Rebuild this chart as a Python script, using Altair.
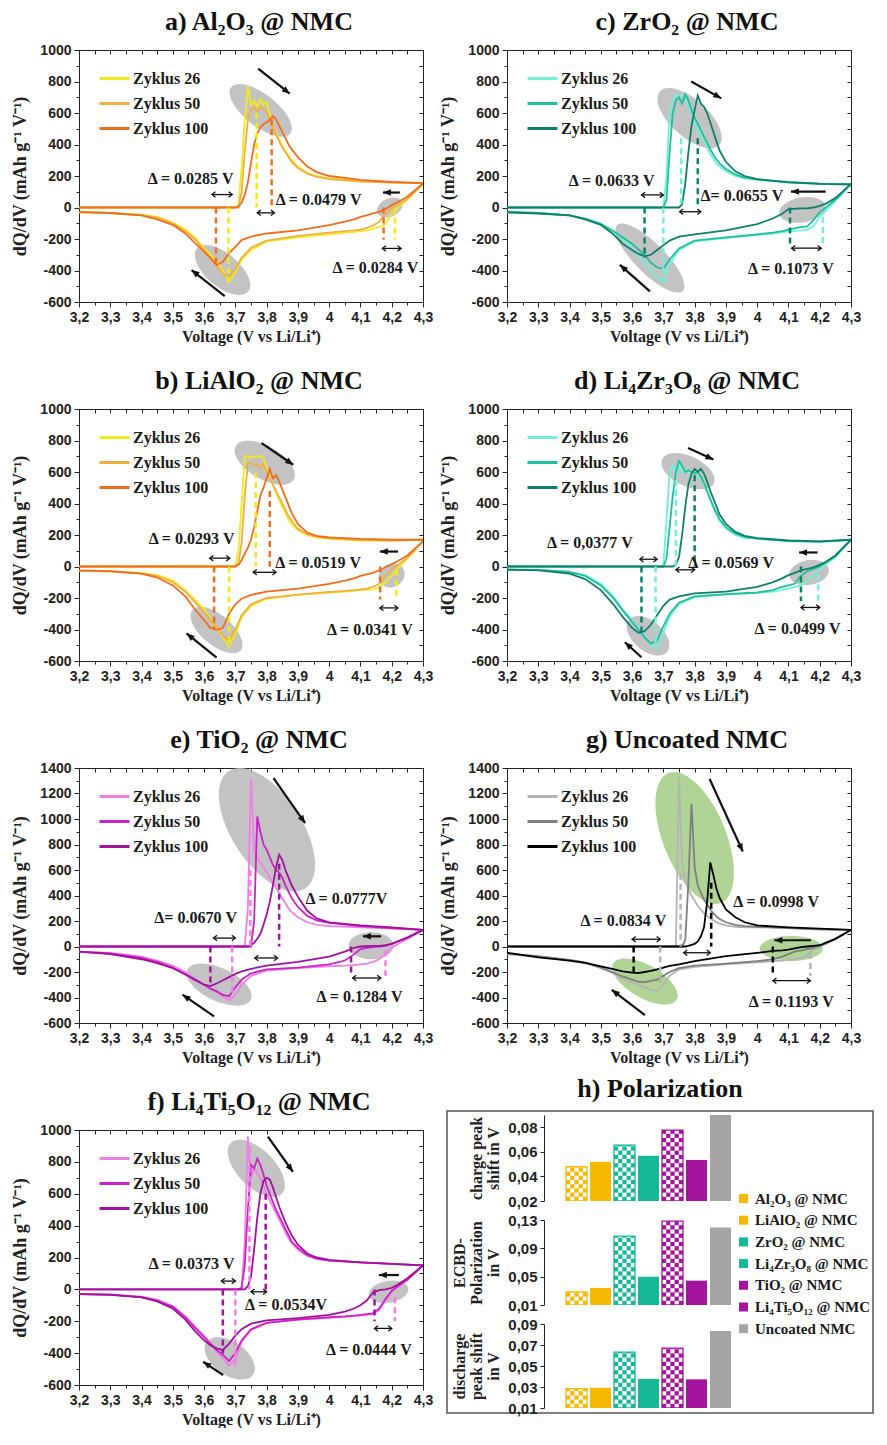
import math
import altair as alt
import pandas as pd

SERIF = "Liberation Serif"
SANS = "Liberation Sans"

CYCLES = ["Zyklus 26", "Zyklus 50", "Zyklus 100"]
X_TICKS = [3.2, 3.3, 3.4, 3.5, 3.6, 3.7, 3.8, 3.9, 4.0, 4.1, 4.2, 4.3]

# shared voltage grids (V vs Li/Li+)
CH_V = [3.20, 3.60, 3.68, 3.70, 3.71, 3.72, 3.73, 3.74, 3.75, 3.76, 3.77, 3.78, 3.79, 3.80, 3.81,
        3.82, 3.83, 3.84, 3.85, 3.86, 3.87, 3.88, 3.90, 3.93, 3.96, 4.00, 4.10, 4.20, 4.30]
DIS_V = [3.20, 3.30, 3.40, 3.45, 3.50, 3.54, 3.57, 3.60, 3.62, 3.64, 3.66, 3.68, 3.70, 3.72, 3.75,
         3.80, 3.90, 4.00, 4.05, 4.08, 4.10, 4.12, 4.14, 4.16, 4.18, 4.20, 4.22, 4.25, 4.30]

# ---------------- a) Al2O3 ----------------
A_CH26 = [0, 0, 0, 0, 20, 250, 550, 770, 650, 680, 640, 690, 650, 670, 590, 520, 470, 430, 390, 360, 330, 300, 260, 220, 200, 185, 170, 160, 155]
A_CH50 = [0, 0, 0, 0, 0, 100, 350, 560, 620, 640, 610, 640, 620, 610, 560, 510, 460, 420, 380, 350, 320, 290, 250, 215, 195, 180, 165, 158, 155]
A_CH100 = [0, 0, 0, 0, 5, 30, 80, 160, 280, 400, 470, 510, 530, 540, 560, 580, 560, 520, 480, 440, 400, 370, 320, 260, 225, 200, 175, 162, 155]
A_DIS26 = [-30, -35, -45, -60, -95, -140, -190, -260, -300, -340, -400, -470, -410, -330, -270, -215, -190, -170, -160, -155, -150, -145, -135, -125, -105, -40, 0, 50, 150]
A_DIS50 = [-30, -35, -48, -65, -100, -150, -200, -270, -320, -370, -420, -440, -390, -320, -255, -210, -180, -160, -150, -145, -140, -130, -115, -90, -40, -5, 15, 55, 150]
A_DIS100 = [-28, -35, -50, -75, -110, -165, -225, -280, -320, -365, -345, -290, -250, -207, -185, -165, -145, -112, -90, -75, -60, -50, -38, -28, -10, 15, 35, 68, 152]
A_DASH = [(3.768, 600, 0, 0), (3.816, 560, 0, 2), (3.678, 0, -480, 0), (3.638, 0, -370, 2), (4.21, 0, -205, 0), (4.174, 0, -205, 2)]
A_DARROW = [(3.625, 3.69, 82), (3.77, 3.825, -34), (4.17, 4.23, -260)]
A_TEXT = [(3.557, 184, "Δ = 0.0285 V"), (3.966, 46, "Δ = 0.0479 V"), (4.148, -383, "Δ = 0.0284 V")]
A_ELL = [(3.781, 617, 75, 32, 38), (3.659, -397, 67, 33, 40), (4.194, 0, 27, 18, -25)]
A_ARROW = [(3.773, 882, 3.874, 723), (3.666, -562, 3.56, -397), (4.226, 95, 4.172, 95)]

# ---------------- b) LiAlO2 ----------------
B_CH26 = [0, 0, 0, 0, 100, 400, 700, 700, 690, 700, 700, 700, 690, 620, 560, 520, 470, 420, 380, 340, 300, 270, 230, 200, 185, 175, 165, 165, 170]
B_CH50 = [0, 0, 0, 0, 20, 150, 450, 650, 660, 640, 650, 620, 650, 600, 560, 520, 480, 440, 400, 360, 320, 290, 240, 205, 188, 178, 168, 165, 170]
B_CH100 = [0, 0, 0, 0, 10, 40, 80, 120, 170, 250, 350, 450, 500, 560, 620, 560, 580, 540, 490, 440, 390, 340, 270, 215, 195, 185, 175, 170, 170]
B_DIS26 = [-28, -30, -40, -55, -90, -150, -210, -270, -330, -390, -450, -510, -430, -320, -250, -205, -180, -165, -160, -155, -150, -148, -145, -130, -100, -60, -10, 50, 160]
B_DIS50 = [-28, -32, -45, -60, -100, -160, -225, -290, -340, -380, -440, -470, -400, -310, -240, -200, -178, -162, -155, -150, -146, -140, -130, -110, -60, -20, 10, 55, 160]
B_DIS100 = [-25, -30, -45, -70, -120, -190, -270, -340, -390, -400, -390, -300, -240, -205, -180, -160, -140, -110, -90, -75, -60, -50, -40, -25, -5, 15, 35, 70, 160]
B_DASH = [(3.765, 600, 0, 0), (3.81, 480, 0, 2), (3.68, 0, -500, 0), (3.632, 0, -400, 2), (4.215, -20, -210, 0), (4.163, 0, -210, 2)]
B_DARROW = [(3.618, 3.682, 53), (3.757, 3.83, -37), (4.162, 4.22, -263)]
B_TEXT = [(3.56, 175, "Δ = 0.0293 V"), (3.965, 21, "Δ = 0.0519 V"), (4.13, -400, "Δ = 0.0341 V")]
B_ELL = [(3.794, 659, 67, 33, 30), (3.64, -404, 63, 30, 40), (4.2, -57, 27, 23, -30)]
B_ARROW = [(3.784, 783, 3.885, 646), (3.64, -579, 3.544, -425), (4.22, 95, 4.162, 95)]

# ---------------- c) ZrO2 ----------------
C_CH26 = [0, 0, 0, 0, 200, 600, 680, 720, 690, 720, 700, 650, 600, 540, 500, 460, 420, 380, 340, 310, 280, 260, 230, 200, 185, 175, 160, 150, 150]
C_CH50 = [0, 0, 0, 0, 50, 350, 600, 680, 700, 660, 720, 680, 620, 570, 530, 490, 450, 410, 370, 335, 305, 280, 245, 210, 190, 178, 162, 152, 150]
C_CH100 = [0, 0, 0, 0, 0, 0, 0, 0, 0, 20, 150, 350, 520, 620, 710, 660, 640, 600, 540, 480, 420, 360, 290, 230, 200, 180, 160, 150, 145]
C_DIS26 = [-30, -35, -50, -70, -100, -150, -200, -260, -310, -350, -400, -450, -470, -360, -270, -215, -195, -175, -165, -158, -150, -148, -145, -140, -120, -60, -20, 40, 150]
C_DIS50 = [-30, -35, -50, -70, -105, -150, -190, -230, -265, -300, -350, -380, -390, -330, -260, -210, -190, -170, -160, -150, -140, -132, -125, -120, -80, -30, 0, 50, 150]
C_DIS100 = [-30, -38, -50, -75, -110, -170, -230, -270, -295, -310, -300, -270, -240, -210, -185, -170, -145, -105, -70, -40, -10, -8, -5, -5, 0, 10, 25, 60, 150]
C_DASH = [(3.757, 440, 0, 0), (3.81, 440, 0, 2), (3.70, 0, -480, 0), (3.64, 0, -320, 2), (4.21, -60, -230, 0), (4.105, 0, -230, 2)]
C_DARROW = [(3.63, 3.70, 80), (3.752, 3.82, -27), (4.11, 4.205, -258)]
C_TEXT = [(3.535, 170, "Δ = 0.0633 V"), (3.951, 70, "Δ= 0.0655 V"), (4.108, -389, "Δ = 0.1073 V")]
C_ELL = [(3.784, 567, 80, 37, 42), (3.657, -321, 93, 30, 45), (4.145, -15, 47, 25, -10)]
C_ARROW = [(3.789, 800, 3.885, 693), (3.657, -533, 3.561, -364), (4.219, 101, 4.108, 101)]

# ---------------- d) Li4Zr3O8 ----------------
D_CH26 = [0, 0, 0, 0, 300, 600, 640, 580, 660, 600, 620, 600, 590, 570, 570, 560, 520, 470, 420, 370, 330, 290, 240, 200, 180, 175, 160, 155, 170]
D_CH50 = [0, 0, 0, 0, 50, 250, 450, 600, 670, 640, 600, 610, 600, 590, 600, 570, 530, 480, 430, 380, 340, 300, 250, 210, 188, 178, 163, 158, 170]
D_CH100 = [0, 0, 0, 0, 0, 0, 0, 10, 60, 200, 380, 520, 590, 620, 600, 620, 590, 540, 480, 430, 380, 330, 270, 220, 195, 180, 165, 160, 170]
D_DIS26 = [-20, -22, -35, -55, -110, -190, -270, -340, -390, -440, -500, -520, -420, -320, -240, -195, -178, -168, -160, -150, -140, -130, -120, -90, -50, -20, 15, 60, 170]
D_DIS50 = [-20, -22, -35, -60, -120, -200, -280, -350, -400, -450, -490, -470, -380, -300, -230, -190, -175, -165, -150, -130, -120, -110, -60, -30, -15, 0, 25, 65, 170]
D_DIS100 = [-20, -25, -45, -80, -150, -240, -320, -390, -420, -410, -370, -310, -250, -210, -190, -170, -160, -130, -100, -75, -55, -40, -25, -15, -5, 10, 30, 70, 170]
D_DASH = [(3.74, 550, 0, 0), (3.80, 580, 0, 2), (3.675, 0, -500, 0), (3.63, 0, -420, 2), (4.195, -50, -220, 0), (4.14, 0, -220, 2)]
D_DARROW = [(3.625, 3.68, 46), (3.74, 3.80, -21), (4.14, 4.2, -260)]
D_TEXT = [(3.465, 152, "Δ = 0,0377 V"), (3.917, 25, "Δ = 0.0569 V"), (4.129, -397, "Δ = 0.0499 V")]
D_ELL = [(3.779, 605, 57, 30, 25), (3.651, -439, 50, 30, 40), (4.166, -38, 40, 25, -10)]
D_ARROW = [(3.779, 753, 3.86, 679), (3.63, -576, 3.577, -481), (4.193, 89, 4.134, 89)]

# ---------------- e) TiO2 ----------------
E_CH26 = [0, 0, 0, 0, 0, 0, 0, 300, 1320, 750, 700, 660, 620, 580, 540, 500, 460, 420, 380, 340, 300, 270, 230, 190, 170, 160, 150, 140, 130]
E_CH50 = [0, 0, 0, 0, 0, 0, 0, 0, 0, 200, 1020, 900, 800, 760, 700, 640, 600, 580, 540, 480, 430, 380, 310, 240, 205, 185, 160, 145, 130]
E_CH100 = [0, 0, 0, 0, 0, 0, 0, 0, 10, 30, 60, 100, 170, 250, 350, 480, 620, 720, 680, 600, 540, 480, 390, 280, 220, 190, 165, 150, 130]
E_DIS26 = [-40, -50, -80, -110, -150, -200, -250, -300, -330, -360, -390, -420, -380, -300, -230, -190, -170, -155, -150, -145, -140, -135, -120, -100, -60, -10, 20, 60, 130]
E_DIS50 = [-40, -55, -90, -120, -165, -215, -260, -300, -330, -350, -380, -390, -320, -260, -210, -180, -165, -140, -110, -60, -20, -10, -5, 0, 5, 20, 40, 70, 130]
E_DIS100 = [-40, -60, -100, -130, -170, -220, -260, -300, -310, -290, -265, -240, -215, -195, -175, -150, -120, -80, -40, -10, 0, 2, 5, 5, 10, 20, 40, 70, 130]
E_DASH = [(3.748, 600, 0, 0), (3.84, 650, 0, 2), (3.69, 0, -380, 0), (3.62, 0, -313, 2), (4.18, -30, -230, 0), (4.07, 0, -230, 2)]
E_DARROW = [(3.63, 3.70, 66), (3.762, 3.835, -90), (4.075, 4.165, -247)]
E_TEXT = [(3.573, 224, "Δ= 0.0670 V"), (4.055, 375, "Δ = 0.0777V"), (4.097, -396, "Δ = 0.1284 V")]
E_ELL = [(3.801, 916, 140, 70, 57), (3.648, -299, 70, 33, 25), (4.134, 6, 45, 27, 0)]
E_ARROW = [(3.822, 1321, 3.923, 968), (3.632, -548, 3.531, -378), (4.166, 80, 4.108, 80)]

# ---------------- g) Uncoated ----------------
G_CH26 = [0, 0, 0, 0, 0, 0, 0, 0, 1330, 650, 520, 450, 400, 360, 320, 290, 260, 240, 220, 205, 190, 180, 165, 155, 150, 150, 145, 135, 130]
G_CH50 = [0, 0, 0, 0, 0, 0, 0, 0, 0, 0, 50, 500, 1120, 620, 480, 420, 370, 330, 290, 260, 235, 215, 190, 170, 160, 155, 145, 135, 130]
G_CH100 = [0, 0, 0, 0, 0, 0, 0, 0, 0, 0, 0, 5, 12, 20, 40, 80, 150, 350, 660, 560, 450, 380, 290, 230, 190, 165, 150, 140, 130]
G_DIS26 = [-60, -80, -110, -130, -170, -210, -250, -280, -300, -320, -340, -350, -300, -230, -180, -160, -140, -125, -115, -110, -105, -100, -90, -70, -20, 0, 20, 60, 130]
G_DIS50 = [-55, -75, -105, -125, -165, -205, -235, -260, -275, -280, -270, -260, -230, -200, -170, -150, -135, -115, -100, -80, -60, -40, -30, -20, -10, 5, 25, 60, 130]
G_DIS100 = [-49, -85, -110, -128, -155, -178, -195, -205, -208, -200, -192, -180, -165, -152, -140, -115, -75, -50, -35, -30, -25, -15, -5, 0, 5, 10, 30, 60, 130]
G_DASH = [(3.755, 570, 0, 0), (3.853, 500, 0, 2), (3.69, 0, -330, 0), (3.605, 0, -210, 2), (4.17, -50, -230, 0), (4.05, 0, -230, 2)]
G_DARROW = [(3.6, 3.69, 57), (3.765, 3.85, -49), (4.05, 4.17, -268)]
G_TEXT = [(3.572, 203, "Δ = 0.0834 V"), (4.061, 349, "Δ = 0.0998 V"), (4.109, -433, "Δ = 0.1193 V")]
G_ELL = [(3.80, 851, 140, 63, 68), (3.641, -275, 73, 33, 30), (4.109, -15, 63, 25, 0)]
G_ARROW = [(3.848, 1314, 3.954, 745), (3.641, -539, 3.535, -340), (4.172, 49, 4.055, 49)]

# ---------------- f) Li4Ti5O12 ----------------
F_CH26 = [0, 0, 0, 0, 0, 0, 300, 960, 700, 760, 730, 700, 650, 600, 560, 520, 480, 440, 400, 360, 320, 290, 250, 210, 190, 180, 170, 160, 150]
F_CH50 = [0, 0, 0, 0, 0, 10, 150, 500, 780, 760, 820, 780, 720, 650, 600, 550, 500, 460, 420, 380, 340, 300, 260, 215, 195, 180, 170, 160, 150]
F_CH100 = [0, 0, 0, 0, 0, 0, 0, 20, 80, 250, 450, 600, 680, 700, 690, 640, 580, 520, 470, 420, 380, 340, 280, 225, 200, 185, 170, 160, 150]
F_DIS26 = [-30, -32, -45, -65, -105, -170, -230, -290, -340, -390, -430, -480, -440, -330, -255, -210, -190, -178, -172, -168, -165, -160, -155, -130, -70, -15, 20, 60, 150]
F_DIS50 = [-30, -33, -48, -70, -110, -175, -240, -300, -340, -380, -410, -450, -400, -320, -250, -210, -190, -175, -170, -165, -160, -155, -150, -120, -60, -10, 20, 60, 150]
F_DIS100 = [-30, -35, -50, -75, -120, -190, -260, -320, -350, -370, -380, -340, -290, -250, -215, -195, -180, -160, -140, -120, -100, -70, -20, -5, 0, 10, 30, 70, 150]
F_DASH = [(3.745, 900, 0, 0), (3.797, 600, 0, 2), (3.70, 0, -480, 0), (3.66, 0, -400, 2), (4.21, -50, -200, 0), (4.145, 0, -200, 2)]
F_DARROW = [(3.655, 3.70, 52), (3.75, 3.80, -15), (4.145, 4.2, -245)]
F_TEXT = [(3.56, 157, "Δ = 0.0373 V"), (3.862, -98, "Δ = 0.0534V"), (4.127, -381, "Δ = 0.0444 V")]
F_ELL = [(3.767, 759, 72, 37, 45), (3.682, -433, 57, 33, 35), (4.19, -15, 40, 22, -10)]
F_ARROW = [(3.804, 958, 3.884, 738), (3.661, -538, 3.597, -454), (4.223, 90, 4.159, 90)]

AL_COLORS = ["#f2ea1c", "#f0b040", "#ee6e1e"]
ZR_COLORS = ["#72f0d8", "#1fbf9f", "#0f7f68"]
TI_COLORS = ["#f27fe6", "#cc22c8", "#a0129e"]
UN_COLORS = ["#b4b4b4", "#7f7f7f", "#000000"]
GREY_ELL = "#bdbdbd"
GREEN_ELL = "#a6cf8a"

# ---------------- h) Polarization ----------------
MATERIALS = ["Al₂O₃ @ NMC", "LiAlO₂ @ NMC", "ZrO₂ @ NMC", "Li₄Zr₃O₈ @ NMC",
             "TiO₂ @ NMC", "Li₄Ti₅O₁₂ @ NMC", "Uncoated NMC"]
CHARGE_SHIFT = [0.0479, 0.0519, 0.0655, 0.0569, 0.0777, 0.0534, 0.0998]
ECBD_POL = [0.0284, 0.0341, 0.1073, 0.0499, 0.1284, 0.0444, 0.1193]
DISCHARGE_SHIFT = [0.0285, 0.0293, 0.0633, 0.0377, 0.0670, 0.0373, 0.0834]
CHECKERED = ["Al₂O₃ @ NMC", "ZrO₂ @ NMC", "TiO₂ @ NMC"]
BAR_BASE = ["#f6b900", "#f6b900", "#17b897", "#17b897", "#a3159c", "#a3159c", "#a5a5a5"]

LEFT_CHEV = "M1.3,-1 L0,0 L1.3,1"
RIGHT_CHEV = "M-1.3,-1 L0,0 L-1.3,1"
TRI = "M0,0 L-2.2,-0.9 L-2.2,0.9 Z"


def ellipse_path(r):
    return f"M-1,0 A1,{r:.3f},0,1,1,1,0 A1,{r:.3f},0,1,1,-1,0 Z"


def panel(title, colors, ch, dis, ymax, dash, darrow, texts, ells, arrows, ell_color, H):
    W = 344
    px = W / 1.1
    py = H / (ymax + 600)
    xs = alt.Scale(domain=[3.2, 4.3], nice=False, zero=False)
    ys = alt.Scale(domain=[-600, ymax], nice=False, zero=False)
    rows = []
    for i, cyc in enumerate(CYCLES):
        for v, q in zip(CH_V, ch[i]):
            rows.append({"V": v, "Q": q, "cycle": cyc, "branch": cyc + " c"})
        for v, q in zip(DIS_V, dis[i]):
            rows.append({"V": v, "Q": q, "cycle": cyc, "branch": cyc + " d"})
    curves = pd.DataFrame(rows)
    yticks = list(range(-600, ymax + 1, 200))
    yminor = list(range(-600, ymax + 1, 100))
    xminor = [round(3.2 + 0.05 * k, 2) for k in range(23)]

    def X(f):
        return alt.X(f, scale=xs, axis=None)

    def Y(f):
        return alt.Y(f, scale=ys, axis=None)

    edf = pd.DataFrame([{"V": e[0], "Q": e[1], "sz": e[2] ** 2, "ang": e[4] % 360,
                         "shp": ellipse_path(e[3] / e[2])} for e in ells])
    ell_layer = alt.Chart(edf).mark_point(filled=True, color=ell_color, opacity=0.9, strokeWidth=0).encode(
        x=X("V:Q"), y=Y("Q:Q"), size=alt.Size("sz:Q", scale=None),
        shape=alt.Shape("shp:N", scale=None), angle=alt.Angle("ang:Q", scale=None))

    lines = alt.Chart(curves).mark_line(strokeWidth=1.8, clip=True).encode(
        x=alt.X("V:Q", scale=xs, axis=alt.Axis(
            values=X_TICKS, labelExpr="replace(format(datum.value, '.1~f'), '.', ',')", labelFlush=False,
            title="Voltage (V vs Li/Li⁺)", tickSize=5, labelPadding=3, titlePadding=4)),
        y=alt.Y("Q:Q", scale=ys, axis=alt.Axis(
            values=yticks, labelExpr="toString(datum.value)", labelFlush=False,
            title="dQ/dV (mAh g⁻¹ V⁻¹)", titleFontSize=18, tickSize=5, labelPadding=3, titlePadding=10)),
        color=alt.Color("cycle:N", scale=alt.Scale(domain=CYCLES, range=colors), legend=alt.Legend(
            orient="none", legendX=19, legendY=12, title=None, symbolType="stroke", symbolSize=900,
            symbolStrokeWidth=3, labelFont=SERIF, labelFontSize=16, labelFontWeight="bold",
            labelColor="#1a1a1a", rowPadding=0, labelOffset=2, padding=0)),
        detail="branch:N")

    ddf = pd.DataFrame([{"V": d[0], "Q1": d[1], "Q2": d[2], "col": colors[d[3]]} for d in dash])
    dash_layer = alt.Chart(ddf).mark_rule(strokeDash=[6, 4], strokeWidth=2.5).encode(
        x=X("V:Q"), y=Y("Q1:Q"), y2="Q2:Q", color=alt.Color("col:N", scale=None))

    adf = pd.DataFrame([{"V1": a[0], "V2": a[1], "Q": a[2]} for a in darrow])
    da_rule = alt.Chart(adf).mark_rule(color="#111", strokeWidth=1.3).encode(
        x=X("V1:Q"), x2="V2:Q", y=Y("Q:Q"))
    hrows = []
    for a in darrow:
        hrows.append({"V": a[0], "Q": a[2], "shp": LEFT_CHEV})
        hrows.append({"V": a[1], "Q": a[2], "shp": RIGHT_CHEV})
    da_heads = alt.Chart(pd.DataFrame(hrows)).mark_point(filled=False, color="#111", strokeWidth=1.3,
                                                        size=30, opacity=1).encode(
        x=X("V:Q"), y=Y("Q:Q"), shape=alt.Shape("shp:N", scale=None))

    arows = []
    for a in arrows:
        ang = math.degrees(math.atan2(-(a[3] - a[1]) * py, (a[2] - a[0]) * px)) % 360
        arows.append({"V1": a[0], "Q1": a[1], "V2": a[2], "Q2": a[3], "ang": ang})
    ardf = pd.DataFrame(arows)
    ar_rule = alt.Chart(ardf).mark_rule(color="#111", strokeWidth=2.2).encode(
        x=X("V1:Q"), y=Y("Q1:Q"), x2="V2:Q", y2="Q2:Q")
    ar_head = alt.Chart(ardf).mark_point(shape=TRI, filled=True, color="#111", size=52, opacity=1).encode(
        x=X("V2:Q"), y=Y("Q2:Q"), angle=alt.Angle("ang:Q", scale=None))

    tdf = pd.DataFrame([{"V": t[0], "Q": t[1], "t": t[2]} for t in texts])
    txt = alt.Chart(tdf).mark_text(font=SERIF, fontSize=16, fontWeight="bold", color="#1a1a1a").encode(
        x=X("V:Q"), y=Y("Q:Q"), text="t:N")

    one = pd.DataFrame({"V": [3.5], "Q": [0]})
    minor = alt.Chart(one).mark_point(opacity=0).encode(
        x=alt.X("V:Q", scale=xs, axis=alt.Axis(orient="bottom", values=xminor, labels=False, domain=False,
                                               tickSize=3, title=None)),
        y=alt.Y("Q:Q", scale=ys, axis=alt.Axis(orient="left", values=yminor, labels=False, domain=False,
                                               tickSize=3, title=None)))
    frame_ticks = alt.Chart(one).mark_point(opacity=0).encode(
        x=alt.X("V:Q", scale=xs, axis=alt.Axis(orient="top", values=xminor, labels=False, domain=False,
                                               tickSize=4, offset=-4, title=None)),
        y=alt.Y("Q:Q", scale=ys, axis=alt.Axis(orient="right", values=yminor, labels=False, domain=False,
                                               tickSize=4, offset=-4, title=None)))

    return alt.layer(ell_layer, lines, dash_layer, da_rule, da_heads, ar_rule, ar_head, txt,
                     minor, frame_ticks).resolve_axis(x="independent", y="independent").properties(
        width=W, height=H,
        title=alt.TitleParams(text=title, font=SERIF, fontSize=26, fontWeight="bold", offset=8,
                              dx=8, color="#111"))


pa = panel("a) Al₂O₃ @ NMC", AL_COLORS, [A_CH26, A_CH50, A_CH100], [A_DIS26, A_DIS50, A_DIS100], 1000,
           A_DASH, A_DARROW, A_TEXT, A_ELL, A_ARROW, GREY_ELL, 252)
pc = panel("c) ZrO₂ @ NMC", ZR_COLORS, [C_CH26, C_CH50, C_CH100], [C_DIS26, C_DIS50, C_DIS100], 1000,
           C_DASH, C_DARROW, C_TEXT, C_ELL, C_ARROW, GREY_ELL, 252)
pb = panel("b) LiAlO₂ @ NMC", AL_COLORS, [B_CH26, B_CH50, B_CH100], [B_DIS26, B_DIS50, B_DIS100], 1000,
           B_DASH, B_DARROW, B_TEXT, B_ELL, B_ARROW, GREY_ELL, 252)
pd_ = panel("d) Li₄Zr₃O₈ @ NMC", ZR_COLORS, [D_CH26, D_CH50, D_CH100], [D_DIS26, D_DIS50, D_DIS100], 1000,
            D_DASH, D_DARROW, D_TEXT, D_ELL, D_ARROW, GREY_ELL, 252)
pe = panel("e) TiO₂ @ NMC", TI_COLORS, [E_CH26, E_CH50, E_CH100], [E_DIS26, E_DIS50, E_DIS100], 1400,
           E_DASH, E_DARROW, E_TEXT, E_ELL, E_ARROW, GREY_ELL, 255)
pg = panel("g) Uncoated NMC", UN_COLORS, [G_CH26, G_CH50, G_CH100], [G_DIS26, G_DIS50, G_DIS100], 1400,
           G_DASH, G_DARROW, G_TEXT, G_ELL, G_ARROW, GREEN_ELL, 255)
pf = panel("f) Li₄Ti₅O₁₂ @ NMC", TI_COLORS, [F_CH26, F_CH50, F_CH100], [F_DIS26, F_DIS50, F_DIS100], 1000,
           F_DASH, F_DARROW, F_TEXT, F_ELL, F_ARROW, GREY_ELL, 255)

bdf = pd.DataFrame({"mat": MATERIALS, "charge": CHARGE_SHIFT, "ecbd": ECBD_POL, "dis": DISCHARGE_SHIFT})
BAR_W = 232
CELL_PX = 4.2


def bar_chart(field, dom, ticks, ttl, H, legend):
    xs = alt.Scale(domain=MATERIALS, paddingInner=0.125, paddingOuter=0, range=[59, 224])
    ys = alt.Scale(domain=dom, nice=False, zero=False)
    Xc = alt.X("mat:N", sort=MATERIALS, scale=xs, axis=None)
    leg = None
    if legend:
        leg = alt.Legend(orient="none", legendX=229, legendY=-29, title=None, symbolType="square",
                         symbolSize=81, symbolStrokeWidth=0, labelFont=SERIF,
                         labelFontSize=15, labelFontWeight="bold", labelColor="#1a1a1a", labelLimit=0,
                         rowPadding=5.7, labelOffset=4, padding=0)
    bars = alt.Chart(bdf).mark_bar(clip=True, strokeWidth=0).encode(
        x=Xc,
        y=alt.Y(f"{field}:Q", scale=ys, axis=alt.Axis(
            values=ticks, labelExpr="replace(format(datum.value, '.2f'), '.', ',')", title=ttl,
            labelFontSize=15, tickSize=4, labelPadding=3, titlePadding=6, titleFontSize=16,
            titleLineHeight=17, offset=-37)),
        y2=alt.datum(dom[0]),
        fill=alt.Fill("mat:N", scale=alt.Scale(domain=MATERIALS, range=BAR_BASE), legend=leg))
    # checker pattern cells (white squares) over the patterned bars
    step = CELL_PX * (dom[1] - dom[0]) / H
    cells = []
    for m, v in zip(MATERIALS, bdf[field]):
        if m not in CHECKERED:
            continue
        top = min(v, dom[1])
        j = 0
        while dom[0] + j * step < top - 1e-9:
            y0 = dom[0] + j * step
            y1 = min(dom[0] + (j + 1) * step, top)
            for i in range(5):
                if (i + j) % 2 == 1:
                    cells.append({"mat": m, "col": i, "y0": y0, "y1": y1})
            j += 1
    cell_layer = alt.Chart(pd.DataFrame(cells)).mark_rect(color="white", clip=True).encode(
        x=Xc, xOffset=alt.XOffset("col:O", scale=alt.Scale(paddingInner=0, paddingOuter=0)),
        y=alt.Y("y0:Q", scale=ys, axis=None), y2="y1:Q")
    outline = alt.Chart(bdf[bdf["mat"].isin(CHECKERED)]).mark_bar(filled=False, clip=True, strokeWidth=1.3).encode(
        x=Xc, y=alt.Y(f"{field}:Q", scale=ys, axis=None), y2=alt.datum(dom[0]),
        stroke=alt.Stroke("mat:N", scale=alt.Scale(domain=MATERIALS, range=BAR_BASE), legend=None))
    layers = [bars, cell_layer, outline]
    if legend:
        one_row = pd.DataFrame({"a": [0]})
        # border box around the whole polarization panel (decoration, pixel offsets)
        frame_box = alt.Chart(one_row).mark_rect(filled=False, stroke="#555", strokeWidth=1.5).encode(
            x=alt.value(-60), x2=alt.value(366), y=alt.value(-109), y2=alt.value(193))
        layers = [frame_box] + layers
    return alt.layer(*layers).resolve_axis(x="independent", y="independent").properties(
        width=BAR_W, height=H, view=alt.ViewBackground(stroke="transparent"))


b1 = bar_chart("charge", [0.02, 0.09], [0.02, 0.04, 0.06, 0.08], ["charge peak", "shift in V"], 86, False)
b2 = bar_chart("ecbd", [0.01, 0.13], [0.01, 0.05, 0.09, 0.13], ["ECBD-", "Polarization", "in V"], 85, True)
b3 = bar_chart("dis", [0.01, 0.09], [0.01, 0.03, 0.05, 0.07, 0.09], ["discharge", "peak shift", "in V"], 84, False)

ph = alt.vconcat(b1, b2, b3, spacing=19, bounds="flush").resolve_scale(
    fill="independent", stroke="independent", color="independent").properties(
    title=alt.TitleParams(text="h) Polarization", font=SERIF, fontSize=26, fontWeight="bold",
                          offset=8, anchor="middle", color="#111"))

S = 22
left_col = alt.vconcat(pa, pb, pe, pf, spacing=S).resolve_scale(color="independent")
right_top = alt.vconcat(pc, pd_, pg, spacing=S).resolve_scale(color="independent")
right_col = alt.vconcat(right_top, ph, spacing=9).resolve_scale(
    color="independent", fill="independent", stroke="independent")

chart = alt.hconcat(left_col, right_col, spacing=5).resolve_scale(
    color="independent", fill="independent", stroke="independent").properties(
    padding={"left": 3, "top": 0, "right": 0, "bottom": 0}).configure_view(
    stroke="#222", strokeWidth=1).configure_axis(
    labelFont=SANS, labelFontWeight="bold", labelFontSize=14, labelColor="#222",
    titleFont=SERIF, titleFontWeight="bold", titleFontSize=16, titleColor="#222",
    tickColor="#222", domainColor="#222", grid=False)

chart.save("out.html", embed_options={"renderer": "svg", "actions": False})
